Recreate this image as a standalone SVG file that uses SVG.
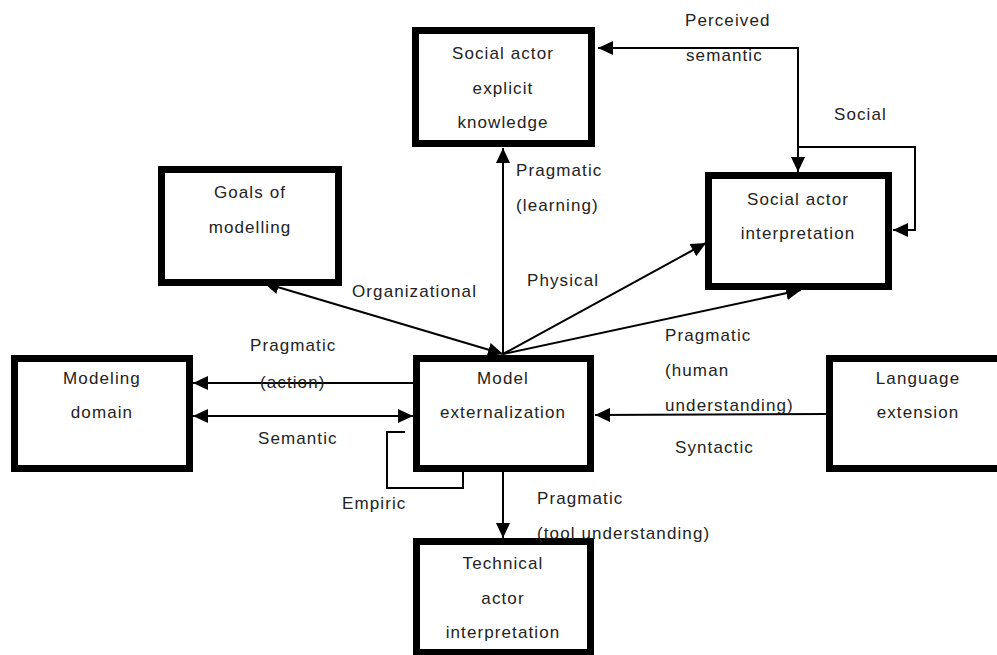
<svg xmlns="http://www.w3.org/2000/svg" width="997" height="655" viewBox="0 0 997 655">
<style>
.box{fill:#fff;stroke:#000;stroke-width:7}
.t{font-family:"Liberation Sans",Arial,sans-serif;font-size:17px;fill:#222;letter-spacing:1.1px}
.c{text-anchor:middle}
.ln{fill:none;stroke:#000;stroke-width:2}
</style>
<defs>
<marker id="ah" markerUnits="userSpaceOnUse" markerWidth="16" markerHeight="14" refX="15" refY="7" orient="auto-start-reverse"><path d="M0,0 L15,7 L0,14 z" fill="#000"/></marker>
</defs>
<rect width="997" height="655" fill="#fff"/>
<g id="connectors">
<path class="ln" d="M598,48 L798,48 L798,172" marker-start="url(#ah)" marker-end="url(#ah)"/>
<path class="ln" d="M798,147 L915,147 L915,230 L893,230" marker-end="url(#ah)"/>
<path class="ln" d="M503,354 L503,148" marker-end="url(#ah)"/>
<path class="ln" d="M503,354 L264,283" marker-start="url(#ah)" marker-end="url(#ah)"/>
<path class="ln" d="M503,354 L706,243" marker-end="url(#ah)"/>
<path class="ln" d="M503,354 L801,290" marker-end="url(#ah)"/>
<path class="ln" d="M413,383 L193,383" marker-end="url(#ah)"/>
<path class="ln" d="M193,416 L413,416" marker-start="url(#ah)" marker-end="url(#ah)"/>
<path class="ln" d="M826,414 L595,415" marker-end="url(#ah)"/>
<path class="ln" d="M405,432 L387,432 L387,488 L463,488 L463,472"/>
<path class="ln" d="M503,472 L503,538" marker-end="url(#ah)"/>
</g>
<g id="explicit-knowledge"><rect class="box" x="415.5" y="30.5" width="176" height="113"/>
<text class="t c" x="503" y="59">Social actor</text><text class="t c" x="503" y="94">explicit</text><text class="t c" x="503" y="128">knowledge</text></g>
<g id="social-interpretation"><rect class="box" x="708.5" y="175.5" width="180" height="111"/>
<text class="t c" x="798" y="205">Social actor</text><text class="t c" x="798" y="239">interpretation</text></g>
<g id="goals"><rect class="box" x="161.5" y="169.5" width="177" height="113"/>
<text class="t c" x="250" y="198">Goals of</text><text class="t c" x="250" y="233">modelling</text></g>
<g id="modeling-domain"><rect class="box" x="14.5" y="358.5" width="175" height="110"/>
<text class="t c" x="102" y="384">Modeling</text><text class="t c" x="102" y="418">domain</text></g>
<g id="model-externalization"><rect class="box" x="416.5" y="358.5" width="174" height="110"/>
<text class="t c" x="503" y="384">Model</text><text class="t c" x="503" y="418">externalization</text></g>
<g id="language-extension"><rect class="box" x="829.5" y="358.5" width="177" height="110"/>
<text class="t c" x="918" y="384">Language</text><text class="t c" x="918" y="418">extension</text></g>
<g id="technical-actor"><rect class="box" x="416.5" y="541.5" width="174" height="111"/>
<text class="t c" x="503" y="569">Technical</text><text class="t c" x="503" y="604">actor</text><text class="t c" x="503" y="638">interpretation</text></g>
<g id="labels">
<text class="t" x="685" y="26">Perceived</text>
<text class="t" x="686" y="61">semantic</text>
<text class="t" x="834" y="120">Social</text>
<text class="t" x="516" y="176">Pragmatic</text>
<text class="t" x="516" y="211">(learning)</text>
<text class="t" x="352" y="297">Organizational</text>
<text class="t" x="527" y="286">Physical</text>
<text class="t" x="665" y="341">Pragmatic</text>
<text class="t" x="665" y="376">(human</text>
<text class="t" x="665" y="411">understanding)</text>
<text class="t" x="675" y="453">Syntactic</text>
<text class="t" x="250" y="351">Pragmatic</text>
<text class="t" x="260" y="388">(action)</text>
<text class="t" x="258" y="444">Semantic</text>
<text class="t" x="342" y="509">Empiric</text>
<text class="t" x="537" y="504">Pragmatic</text>
<text class="t" x="537" y="539">(tool understanding)</text>
</g>
</svg>
